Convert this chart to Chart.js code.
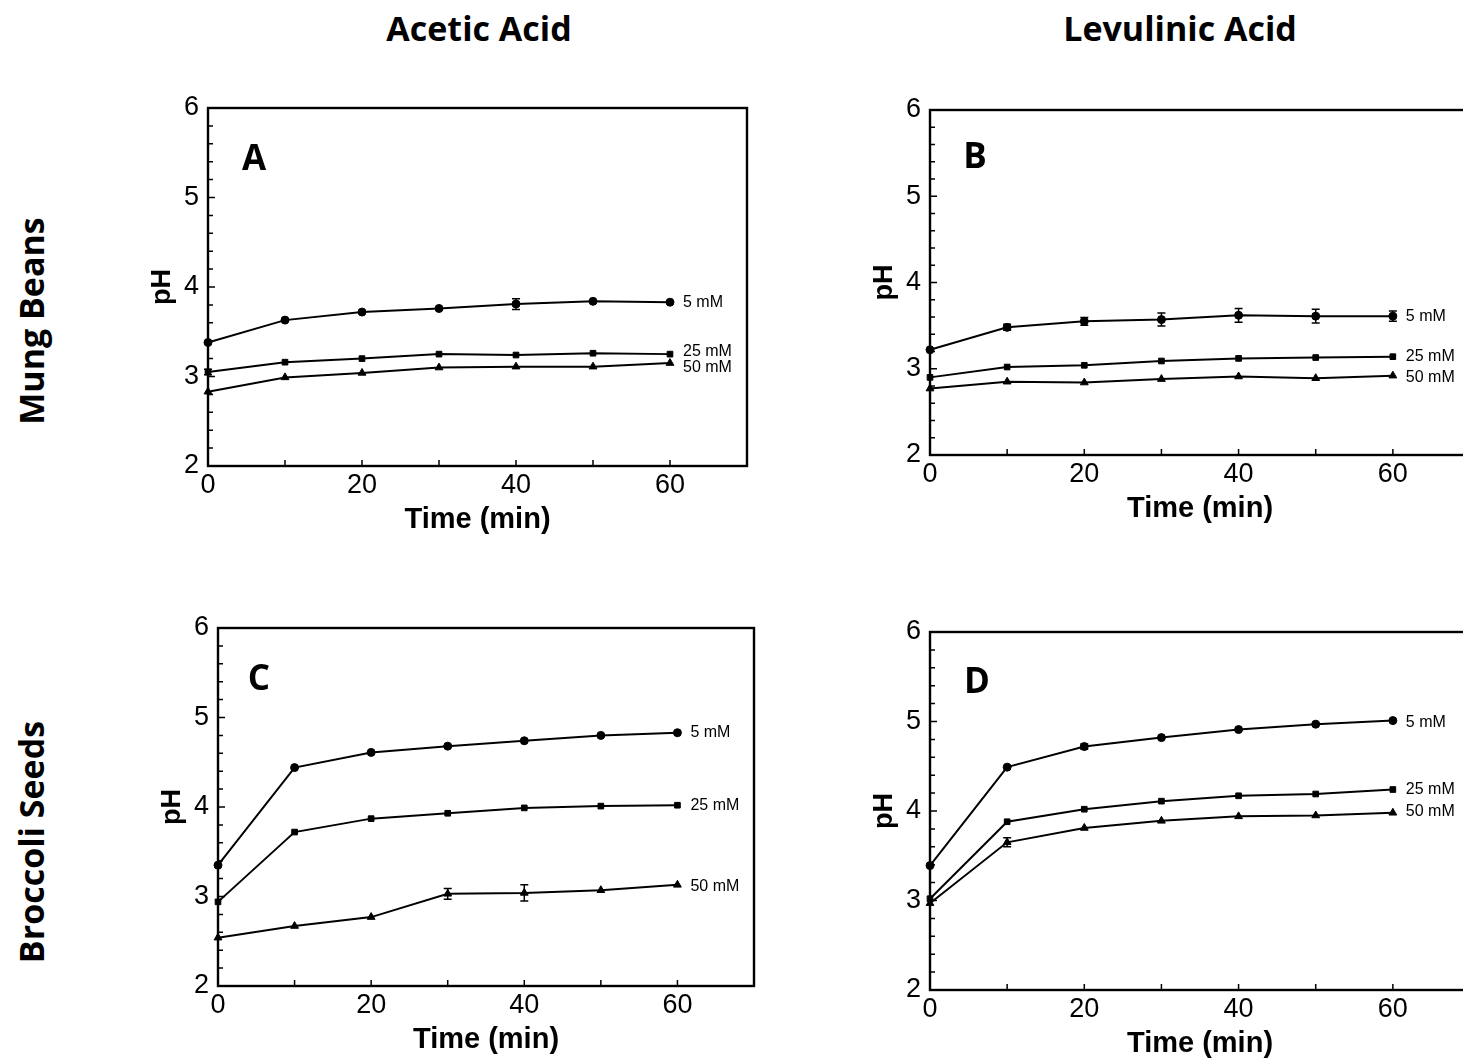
<!DOCTYPE html>
<html>
<head>
<meta charset="utf-8">
<script src="https://cdn.jsdelivr.net/npm/chart.js@4.4.1/dist/chart.umd.min.js"></script>
<style>
  html, body { margin: 0; padding: 0; background: #fff; }
  body { width: 1463px; height: 1060px; overflow: hidden; position: relative; }
  .hdr { position: absolute; font-family: "Open Sans", Lato, sans-serif; font-weight: 700; color: #000; white-space: nowrap; line-height: 1; font-size: 34px; }
  canvas { position: absolute; }
</style>
</head>
<body>
<div class="hdr" style="left:479px;top:28px;transform:translate(-50%,-50%)">Acetic Acid</div>
<div class="hdr" style="left:1180px;top:28px;transform:translate(-50%,-50%)">Levulinic Acid</div>
<div class="hdr" style="left:31px;top:321px;transform:translate(-50%,-50%) rotate(-90deg)">Mung Beans</div>
<div class="hdr" style="left:31px;top:842px;transform:translate(-50%,-50%) rotate(-90deg)">Broccoli Seeds</div>

<canvas id="panelA"></canvas>
<canvas id="panelB"></canvas>
<canvas id="panelC"></canvas>
<canvas id="panelD"></canvas>

<script>
// Sampling times (min) and acid concentrations
const timeMin = [0, 10, 20, 30, 40, 50, 60];
const concLabels = ['5 mM', '25 mM', '50 mM'];
const yTicks = [2, 3, 4, 5, 6];
const xTicks = [0, 20, 40, 60];

// A: mung beans, acetic acid
const phA5  = [3.38, 3.63, 3.72, 3.76, 3.81, 3.84, 3.83];
const phA25 = [3.05, 3.16, 3.20, 3.25, 3.24, 3.26, 3.25];
const phA50 = [2.83, 2.99, 3.04, 3.10, 3.11, 3.11, 3.15];
const errA5  = [0, 0, 0, 0, 0.06, 0, 0];
const errA25 = [0.03, 0, 0, 0, 0, 0, 0];
const errA50 = [0, 0, 0, 0, 0, 0, 0];

// B: mung beans, levulinic acid
const phB5  = [3.22, 3.48, 3.55, 3.57, 3.62, 3.61, 3.61];
const phB25 = [2.90, 3.02, 3.04, 3.09, 3.12, 3.13, 3.14];
const phB50 = [2.77, 2.85, 2.84, 2.88, 2.91, 2.89, 2.92];
const errB5  = [0, 0.035, 0.045, 0.075, 0.08, 0.08, 0.06];
const errB25 = [0, 0, 0, 0, 0, 0, 0];
const errB50 = [0, 0, 0, 0, 0, 0, 0];

// C: broccoli seeds, acetic acid
const phC5  = [3.35, 4.44, 4.61, 4.68, 4.74, 4.80, 4.83];
const phC25 = [2.94, 3.72, 3.87, 3.93, 3.99, 4.01, 4.02];
const phC50 = [2.54, 2.67, 2.77, 3.03, 3.04, 3.07, 3.13];
const errC5  = [0, 0, 0, 0, 0, 0, 0];
const errC25 = [0, 0, 0, 0, 0, 0, 0];
const errC50 = [0, 0, 0, 0.06, 0.09, 0, 0];

// D: broccoli seeds, levulinic acid
const phD5  = [3.39, 4.49, 4.72, 4.82, 4.91, 4.97, 5.01];
const phD25 = [3.02, 3.88, 4.02, 4.11, 4.17, 4.19, 4.24];
const phD50 = [2.97, 3.65, 3.81, 3.89, 3.94, 3.95, 3.98];
const errD5  = [0, 0, 0.03, 0, 0, 0, 0];
const errD25 = [0, 0, 0, 0, 0, 0, 0];
const errD50 = [0, 0.05, 0, 0, 0, 0, 0];

const markerStyles = ['circle', 'rect', 'triangle'];

// Plot-area rectangles on the page, panel-letter offsets and label nudges
const panels = [
  { canvas: 'panelA', tag: 'A', tagPos: [46, 62], area: { l: 208, t: 108, r: 747, b: 466 },
    values: [phA5, phA25, phA50], errors: [errA5, errA25, errA50], nudge: [0, -3, 5] },
  { canvas: 'panelB', tag: 'B', tagPos: [45, 58], area: { l: 930, t: 110, r: 1470, b: 455 },
    values: [phB5, phB25, phB50], errors: [errB5, errB25, errB50], nudge: [0, 0, 2] },
  { canvas: 'panelC', tag: 'C', tagPos: [41, 62], area: { l: 218, t: 628, r: 754, b: 986 },
    values: [phC5, phC25, phC50], errors: [errC5, errC25, errC50], nudge: [0, 0, 2] },
  { canvas: 'panelD', tag: 'D', tagPos: [47, 61], area: { l: 930, t: 632, r: 1470, b: 990 },
    values: [phD5, phD25, phD50], errors: [errD5, errD25, errD50], nudge: [2, 0, -1] }
];

const Y_AXIS_W = 80, X_AXIS_H = 80;
const PAD = { left: 20, top: 30, right: 30, bottom: 10 };
const NUM_FONT = '"Liberation Sans", Arial, sans-serif';

// Box frame with inward tick marks
const framePlugin = {
  id: 'frame',
  beforeDatasetsDraw(chart) {
    const { ctx, chartArea: a, scales: { x, y } } = chart;
    ctx.save();
    ctx.strokeStyle = '#000';
    ctx.lineWidth = 1.5;
    ctx.beginPath();
    for (let k = 0; k <= 20; k++) {
      const v = 2 + k * 0.2;
      const py = y.getPixelForValue(v);
      const len = (k % 5 === 0) ? 7 : 5;
      ctx.moveTo(a.left, py);
      ctx.lineTo(a.left + len, py);
    }
    for (let k = 1; k < 7; k++) {
      const px = x.getPixelForValue(k * 10);
      ctx.moveTo(px, a.bottom);
      ctx.lineTo(px, a.bottom - 6);
    }
    ctx.stroke();
    ctx.lineWidth = 2.4;
    ctx.strokeRect(a.left, a.top, a.right - a.left, a.bottom - a.top);
    ctx.restore();
  }
};

// Vertical error bars with caps
const errorBarPlugin = {
  id: 'errorBars',
  afterDatasetsDraw(chart) {
    const { ctx, scales: { x, y } } = chart;
    ctx.save();
    ctx.strokeStyle = '#000';
    ctx.lineWidth = 1.5;
    chart.data.datasets.forEach(ds => {
      (ds.errors || []).forEach((e, i) => {
        if (!e) return;
        const pt = ds.data[i];
        const px = x.getPixelForValue(pt.x);
        const y1 = y.getPixelForValue(pt.y + e);
        const y2 = y.getPixelForValue(pt.y - e);
        ctx.beginPath();
        ctx.moveTo(px, y1); ctx.lineTo(px, y2);
        ctx.moveTo(px - 4, y1); ctx.lineTo(px + 4, y1);
        ctx.moveTo(px - 4, y2); ctx.lineTo(px + 4, y2);
        ctx.stroke();
      });
    });
    ctx.restore();
  }
};

// Concentration labels at the end of each curve, and the panel letter
const labelPlugin = {
  id: 'curveLabels',
  afterDatasetsDraw(chart, args, opts) {
    const { ctx, chartArea: a } = chart;
    ctx.save();
    ctx.fillStyle = '#000';
    ctx.textAlign = 'left';
    ctx.textBaseline = 'middle';
    ctx.font = '16px ' + NUM_FONT;
    chart.data.datasets.forEach((ds, i) => {
      const meta = chart.getDatasetMeta(i);
      const last = meta.data[meta.data.length - 1];
      ctx.fillText(ds.label, last.x + 13, last.y + (opts.nudge[i] || 0));
    });
    ctx.font = '700 35px "Open Sans", Lato, sans-serif';
    ctx.textAlign = 'center';
    ctx.textBaseline = 'alphabetic';
    ctx.fillText(opts.tag, a.left + opts.tagPos[0], a.top + opts.tagPos[1]);
    ctx.restore();
  }
};

panels.forEach(p => {
  const cv = document.getElementById(p.canvas);
  const w = (p.area.r - p.area.l) + Y_AXIS_W + PAD.left + PAD.right;
  const h = (p.area.b - p.area.t) + X_AXIS_H + PAD.top + PAD.bottom;
  cv.width = w; cv.height = h;
  cv.style.left = (p.area.l - Y_AXIS_W - PAD.left) + 'px';
  cv.style.top = (p.area.t - PAD.top) + 'px';
  cv.style.width = w + 'px'; cv.style.height = h + 'px';

  const datasets = p.values.map((vals, i) => ({
    label: concLabels[i],
    data: timeMin.map((t, j) => ({ x: t, y: vals[j] })),
    errors: p.errors[i],
    borderColor: '#000',
    backgroundColor: '#000',
    borderWidth: 2,
    pointStyle: markerStyles[i],
    pointRadius: i === 2 ? 4.5 : 4,
    pointBorderWidth: 1,
    pointBackgroundColor: '#000',
    pointBorderColor: '#000',
    tension: 0,
    clip: false
  }));

  new Chart(cv, {
    type: 'line',
    data: { datasets },
    options: {
      responsive: false,
      animation: false,
      devicePixelRatio: 1,
      layout: { padding: PAD },
      plugins: {
        legend: { display: false },
        tooltip: { enabled: false },
        curveLabels: { tag: p.tag, tagPos: p.tagPos, nudge: p.nudge }
      },
      scales: {
        x: {
          type: 'linear', min: 0, max: 70,
          afterBuildTicks: s => { s.ticks = xTicks.map(v => ({ value: v })); },
          afterFit: s => { s.height = X_AXIS_H; },
          grid: { display: false, drawTicks: false },
          border: { display: false },
          ticks: { color: '#000', padding: 3, maxRotation: 0,
                   font: { family: NUM_FONT, size: 27 } },
          title: { display: true, text: 'Time (min)', color: '#000',
                   padding: { top: 0, bottom: 9 },
                   font: { family: NUM_FONT, size: 29, weight: 'bold' } }
        },
        y: {
          type: 'linear', min: 2, max: 6,
          afterBuildTicks: s => { s.ticks = yTicks.map(v => ({ value: v })); },
          afterFit: s => { s.width = Y_AXIS_W; },
          grid: { display: false, drawTicks: false },
          border: { display: false },
          ticks: { color: '#000', padding: 9,
                   font: { family: NUM_FONT, size: 27 } },
          title: { display: true, text: 'pH', color: '#000',
                   padding: { top: 18, bottom: 0 },
                   font: { family: NUM_FONT, size: 27, weight: 'bold' } }
        }
      }
    },
    plugins: [framePlugin, errorBarPlugin, labelPlugin]
  });
});
</script>
</body>
</html>
